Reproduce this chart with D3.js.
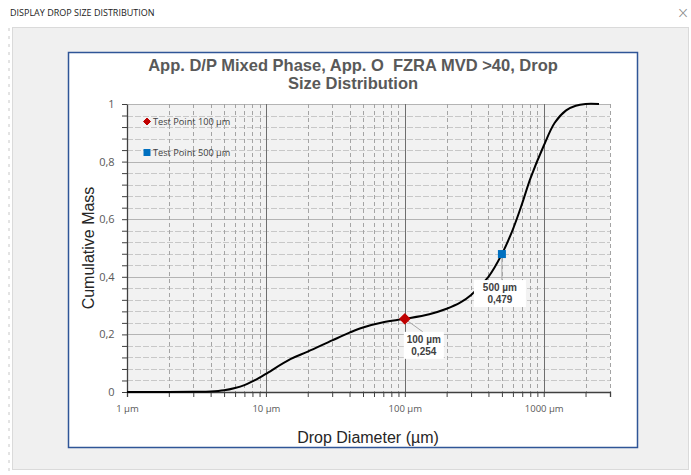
<!DOCTYPE html>
<html><head><meta charset="utf-8">
<script src="https://cdn.jsdelivr.net/npm/d3@7"></script>
<style>
html,body{margin:0;padding:0;background:#fff;}
svg{display:block;}
text{white-space:pre;}
</style></head>
<body>
<svg id="c" width="691" height="475"></svg>
<script>
// ---- data ----
const diameters = [1, 2, 3, 4, 5, 6, 7, 8, 9, 10, 15, 20, 30, 40, 50, 70, 100, 150, 200, 250, 300, 400, 500, 600, 700, 800, 1000, 1200, 1450, 1700, 2000, 2500];
const cumMass   = [0, 0, 0.001, 0.002, 0.006, 0.014, 0.024, 0.037, 0.05, 0.063, 0.114, 0.14, 0.179, 0.206, 0.224, 0.242, 0.254, 0.27, 0.289, 0.31, 0.337, 0.4, 0.479, 0.565, 0.655, 0.74, 0.855, 0.935, 0.978, 0.994, 1, 1];
const testPoints = [
  {name: "Test Point 100 µm", d: 100, v: 0.254, label1: "100 µm", label2: "0,254", color: "#c00000", shape: "diamond"},
  {name: "Test Point 500 µm", d: 500, v: 0.479, label1: "500 µm", label2: "0,479", color: "#0070c0", shape: "square"}
];
const xMajorTicks = [1, 10, 100, 1000];
const xTickLabels = ["1 µm", "10 µm", "100 µm", "1000 µm"];
const yMajorTicks = [0, 0.2, 0.4, 0.6, 0.8, 1];
const yTickLabels = ["0", "0,2", "0,4", "0,6", "0,8", "1"];
const titleLines = ["App. D/P Mixed Phase, App. O  FZRA MVD >40, Drop", "Size Distribution"];

const svg = d3.select("#c");
const F = "'Liberation Sans', Arial, sans-serif";
const FC = "'Open Sans', 'DejaVu Sans', sans-serif";

// window chrome
svg.append("text").attr("x", 10).attr("y", 16).attr("font-family", FC).attr("font-size", 9)
  .attr("fill", "#222").text("DISPLAY DROP SIZE DISTRIBUTION");
svg.append("text").attr("x", 683).attr("y", 18).attr("text-anchor", "middle").attr("font-family", "'DejaVu Sans', sans-serif")
  .attr("font-size", 15).attr("font-weight", 200).attr("fill", "#888").text("×");
svg.append("line").attr("x1", 9).attr("x2", 9).attr("y1", 28).attr("y2", 475)
  .attr("stroke", "#c8c8c8").attr("stroke-dasharray", "3,5");
svg.append("rect").attr("x", 12.5).attr("y", 27.5).attr("width", 676).attr("height", 442)
  .attr("fill", "#f0f0f0").attr("stroke", "#dadada");

// chart area
svg.append("rect").attr("x", 68.5).attr("y", 52.5).attr("width", 569).attr("height", 395)
  .attr("fill", "#fff").attr("stroke", "#2f5597").attr("stroke-width", 1.5);

const x = d3.scaleLog().domain([1, 3000]).range([127, 610]);
const y = d3.scaleLinear().domain([0, 1]).range([392, 104]);

// plot area bg
svg.append("rect").attr("x", x(1)).attr("y", y(1)).attr("width", x(3000) - x(1)).attr("height", y(0) - y(1))
  .attr("fill", "#f2f2f2");

// minor values
const xMinor = [];
[1, 10, 100, 1000].forEach(b => { for (let k = 2; k <= 9; k++) { const v = b * k; if (v <= 3000) xMinor.push(v); } });
const yMinor = d3.range(0, 1.0001, 0.04).map(v => +v.toFixed(2)).filter(v => !yMajorTicks.some(m => Math.abs(m - v) < 1e-6));

const g = svg.append("g");
g.selectAll(".hmin").data(yMinor).join("line")
  .attr("x1", x(1)).attr("x2", x(3000)).attr("y1", d => Math.round(y(d)) + 0.5).attr("y2", d => Math.round(y(d)) + 0.5)
  .attr("stroke", "#c8c8c8").attr("stroke-dasharray", "6,2");
g.selectAll(".hmaj").data(yMajorTicks).join("line")
  .attr("x1", x(1)).attr("x2", x(3000)).attr("y1", d => Math.round(y(d)) + 0.5).attr("y2", d => Math.round(y(d)) + 0.5)
  .attr("stroke", "#b4b4b4");
g.selectAll(".vmin").data(xMinor).join("line")
  .attr("x1", d => Math.round(x(d)) + 0.5).attr("x2", d => Math.round(x(d)) + 0.5).attr("y1", y(1)).attr("y2", y(0))
  .attr("stroke", "#a4a4a4").attr("stroke-dasharray", "4,3");
g.selectAll(".vmaj").data(xMajorTicks.slice(1)).join("line")
  .attr("x1", d => Math.round(x(d)) + 0.5).attr("x2", d => Math.round(x(d)) + 0.5).attr("y1", y(1)).attr("y2", y(0))
  .attr("stroke", "#6e6e6e");

// axes
const xAxis = d3.axisBottom(x).tickValues(xMajorTicks.concat(xMinor)).tickSize(5).tickFormat(d => {
  const i = xMajorTicks.indexOf(d); return i >= 0 ? xTickLabels[i] : "";
});
const xa = svg.append("g").attr("transform", `translate(0,${y(0)})`).call(xAxis);
xa.select(".domain").attr("stroke", "#404040").attr("stroke-width", 1.3);
xa.selectAll(".tick line").attr("stroke", "#404040");
xa.selectAll(".tick text").attr("font-family", FC).attr("font-size", 9.5).attr("fill", "#595959").attr("dy", "1.3em");

const yAxis = d3.axisLeft(y).tickValues(yMajorTicks.concat(yMinor)).tickSize(5).tickSizeOuter(0).tickFormat(d => {
  const i = yMajorTicks.findIndex(m => Math.abs(m - d) < 1e-6); return i >= 0 ? yTickLabels[i] : "";
});
const ya = svg.append("g").attr("transform", `translate(${x(1)},0)`).call(yAxis);
ya.select(".domain").attr("stroke", "#404040").attr("stroke-width", 1.3);
ya.selectAll(".tick line").attr("stroke", "#404040");
ya.selectAll(".tick text").attr("font-family", FC).attr("font-size", 11).attr("fill", "#595959").attr("dx", "-0.4em");

// curve
const data = diameters.map((d, i) => ({d, v: cumMass[i]}));
const line = d3.line().x(p => x(p.d)).y(p => y(p.v)).curve(d3.curveCatmullRom.alpha(0.5));
svg.append("path").datum(data).attr("d", line).attr("fill", "none").attr("stroke", "#000").attr("stroke-width", 2);

// test points + annotations
const tp0 = testPoints[0], tp1 = testPoints[1];
svg.append("line").attr("x1", x(tp0.d)).attr("y1", y(tp0.v)).attr("x2", x(tp0.d) + 18).attr("y2", y(tp0.v) + 13)
  .attr("stroke", "#a6a6a6").attr("stroke-width", 1);
svg.append("line").attr("x1", x(tp1.d)).attr("y1", y(tp1.v)).attr("x2", x(tp1.d)).attr("y2", y(tp1.v) + 26)
  .attr("stroke", "#a6a6a6").attr("stroke-width", 1);

function labelBox(cx, top, w, l1, l2) {
  svg.append("rect").attr("x", cx - w / 2).attr("y", top).attr("width", w).attr("height", 27).attr("fill", "#fff");
  svg.append("text").attr("x", cx).attr("y", top + 11).attr("text-anchor", "middle").attr("font-family", F)
    .attr("font-size", 10).attr("font-weight", "bold").attr("fill", "#404040").text(l1);
  svg.append("text").attr("x", cx).attr("y", top + 23).attr("text-anchor", "middle").attr("font-family", F)
    .attr("font-size", 10).attr("font-weight", "bold").attr("fill", "#404040").text(l2);
}
labelBox(x(tp0.d) + 19, y(tp0.v) + 13, 40, tp0.label1, tp0.label2);
labelBox(x(tp1.d) - 2, y(tp1.v) + 26, 52, tp1.label1, tp1.label2);

function diamondPath(r) { return `M0,${-r}L${r},0L0,${r}L${-r},0Z`; }
testPoints.forEach(t => {
  if (t.shape === "diamond") {
    svg.append("path").attr("d", diamondPath(5)).attr("transform", `translate(${x(t.d)},${y(t.v)})`)
      .attr("fill", t.color).attr("stroke", t.color).attr("stroke-width", 1.2).attr("stroke-linejoin", "round");
  } else {
    svg.append("rect").attr("x", x(t.d) - 4).attr("y", y(t.v) - 4).attr("width", 8).attr("height", 8).attr("fill", t.color);
  }
});

// legend
testPoints.forEach((t, i) => {
  const ly = 121.5 + i * 31;
  if (t.shape === "diamond") {
    svg.append("path").attr("d", diamondPath(3.5)).attr("transform", `translate(147,${ly})`)
      .attr("fill", t.color).attr("stroke", t.color).attr("stroke-width", 1).attr("stroke-linejoin", "round");
  } else {
    svg.append("rect").attr("x", 143.5).attr("y", ly - 3.5).attr("width", 7).attr("height", 7).attr("fill", t.color);
  }
  svg.append("text").attr("x", 153).attr("y", ly + 3.3).attr("font-family", FC).attr("font-size", 9.2)
    .attr("fill", "#404040").text(t.name);
});

// titles
titleLines.forEach((t, i) => {
  svg.append("text").attr("x", 353).attr("y", 71 + i * 18).attr("text-anchor", "middle").attr("font-family", F)
    .attr("font-size", 16.5).attr("font-weight", "bold").attr("fill", "#595959").attr("xml:space", "preserve").text(t);
});
svg.append("text").attr("transform", `translate(94,248) rotate(-90)`).attr("text-anchor", "middle")
  .attr("font-family", F).attr("font-size", 16).attr("fill", "#262626").text("Cumulative Mass");
svg.append("text").attr("x", 368).attr("y", 443).attr("text-anchor", "middle")
  .attr("font-family", F).attr("font-size", 16).attr("fill", "#262626").text("Drop Diameter (µm)");
</script>
</body></html>
